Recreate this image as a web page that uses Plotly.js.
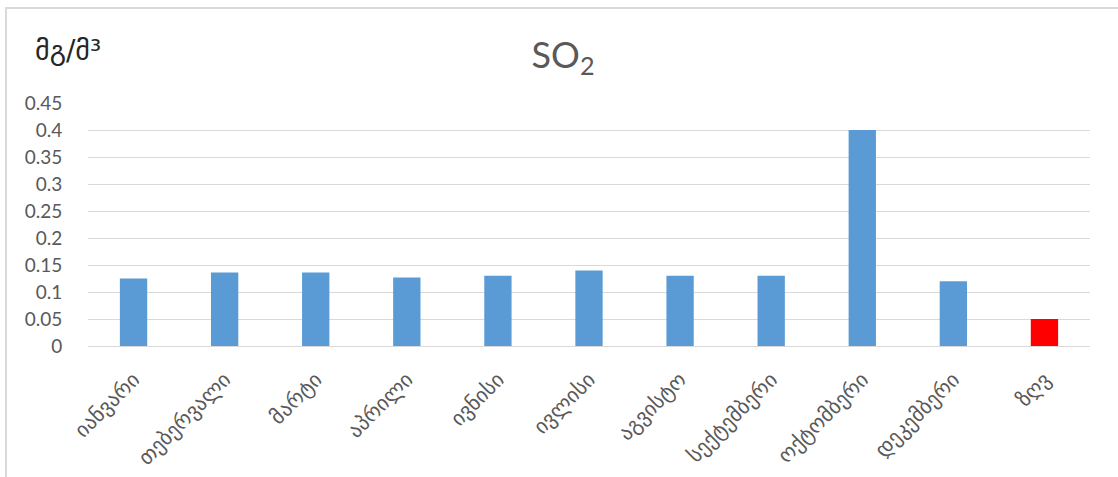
<!DOCTYPE html>
<html>
<head>
<meta charset="utf-8">
<script src="https://cdn.plot.ly/plotly-3.0.1.min.js"></script>
<style>
  html, body { margin: 0; padding: 0; background: #ffffff; }
  #wrap { position: relative; width: 1118px; height: 477px; overflow: hidden; }
  #frame { position: absolute; left: 5px; top: 7px; width: 1120px; height: 480px;
           border-top: 2px solid #d9d9d9; border-left: 2px solid #d9d9d9; box-sizing: border-box; pointer-events: none; }
  #chart { position: absolute; left: 0; top: 0; width: 1118px; height: 477px; }
</style>
</head>
<body>
<div id="wrap">
  <div id="chart"></div>
  <div id="frame"></div>
</div>
<script>
// ---- data ----
const months = ["იანვარი", "თებერვალი", "მარტი", "აპრილი", "ივნისი", "ივლისი",
                "აგვისტო", "სექტემბერი", "ოქტომბერი", "დეკემბერი", "ზღვ"];
const so2Values = [0.125, 0.136, 0.136, 0.127, 0.13, 0.14, 0.13, 0.13, 0.4, 0.12, 0.05];
const chartTitle = "SO<sub>2</sub>";
const unitLabel = "მგ/მ³";
const yTickValues = [0, 0.05, 0.1, 0.15, 0.2, 0.25, 0.3, 0.35, 0.4, 0.45];
const yTickLabels = ["0", "0.05", "0.1", "0.15", "0.2", "0.25", "0.3", "0.35", "0.4", "0.45"];

// ---- styles ----
const monthColor = "#5b9bd5";
const limitColor = "#ff0000";
const barColors = months.map((m, i) => i === months.length - 1 ? limitColor : monthColor);

const W = 1118, H = 477;
const marginL = 88, marginR = 28, marginT = 103, marginB = 131;
const plotW = W - marginL - marginR, plotH = H - marginT - marginB;

const trace = {
  type: "bar",
  x: months,
  y: so2Values,
  marker: { color: barColors, line: { width: 0 } },
  hoverinfo: "x+y"
};

const layout = {
  width: W, height: H,
  margin: { l: marginL, r: marginR, t: marginT, b: marginB, pad: 0 },
  paper_bgcolor: "rgba(0,0,0,0)",
  plot_bgcolor: "rgba(0,0,0,0)",
  showlegend: false,
  bargap: 0.7,
  font: { family: "Lato, 'DejaVu Sans', sans-serif", color: "#595959" },
  title: {
    text: chartTitle,
    font: { family: "Lato, 'DejaVu Sans', sans-serif", size: 36, color: "#595959" },
    xref: "container", x: 563 / W, xanchor: "center",
    yref: "container", y: 1 - 55 / H, yanchor: "middle"
  },
  xaxis: {
    type: "category",
    tickangle: -45,
    tickfont: { family: "'DejaVu Sans', sans-serif", size: 21, color: "#595959" },
    showgrid: false,
    showline: false,
    ticks: "outside",
    ticklen: 12,
    tickcolor: "rgba(0,0,0,0)",
    zeroline: false,
    automargin: false
  },
  yaxis: {
    range: [0, 0.45],
    tickvals: yTickValues,
    ticktext: yTickLabels,
    tickfont: { family: "Lato, sans-serif", size: 19, color: "#595959" },
    showgrid: true,
    gridcolor: "#d9d9d9",
    gridwidth: 1,
    zeroline: true,
    zerolinecolor: "#d9d9d9",
    zerolinewidth: 1,
    showline: false,
    ticks: "outside",
    ticklen: 21,
    tickcolor: "rgba(0,0,0,0)",
    automargin: false
  },
  annotations: [{
    text: unitLabel,
    xref: "paper", yref: "paper",
    x: (33 - marginL) / plotW, xanchor: "left",
    y: 1 + (marginT - 50) / plotH, yanchor: "middle",
    showarrow: false,
    font: { family: "'DejaVu Sans', sans-serif", size: 28, color: "#262626" }
  }]
};

Plotly.newPlot("chart", [trace], layout, { displayModeBar: false, staticPlot: true });
</script>
</body>
</html>
